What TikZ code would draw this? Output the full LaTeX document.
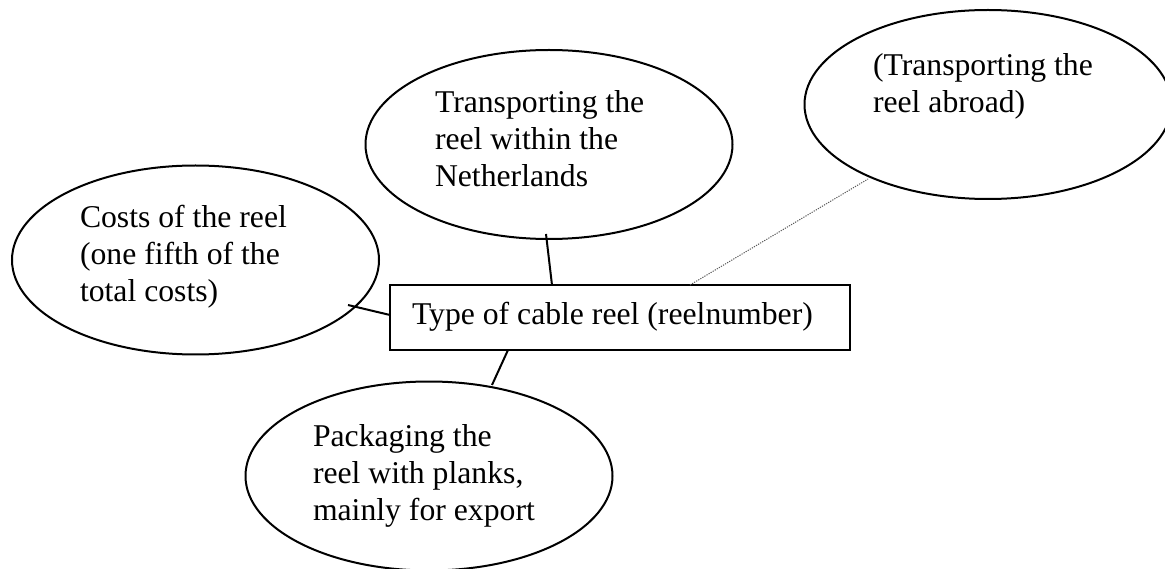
\documentclass[tikz,border=0pt]{standalone}
\usepackage{fontspec}
\setmainfont{Liberation Serif}
\usetikzlibrary{shapes.geometric}

% stacked lines whose reference point is the first baseline
\newcommand\linestack[1]{\vtop{\baselineskip=37pt\lineskiplimit=-100pt\lineskip=0pt #1}}
\newcommand\txtline[1]{\hbox{#1}}

\tikzset{
  bubble/.style={draw, ellipse, line width=2pt, inner sep=0pt, outer sep=0pt,
    minimum width=367pt, minimum height=189pt},
  reelbox/.style={draw, rectangle, line width=2.4pt, inner sep=0pt, outer sep=0pt,
    minimum width=460pt, minimum height=65pt},
  label/.style={anchor=base west, inner sep=0pt, outer sep=0pt,
    font=\fontsize{31.7}{37}\selectfont},
  link/.style={line width=2pt},
  weaklink/.style={line width=1pt, gray!70!black, dash pattern=on 1.2pt off 1.2pt}
}

\begin{document}
\begin{tikzpicture}[x=1pt,y=-1pt]
\useasboundingbox (0,0) rectangle (1165,569);

% the four cost bubbles
\node[bubble] (costs)     at (195.5,260) {};
\node[bubble] (inland)    at (549,144.5) {};
\node[bubble] (abroad)    at (988,104.5) {};
\node[bubble] (packaging) at (429,476)   {};

% central box
\node[reelbox] (reel) at (620,317.5) {};

% texts
\node[label] (costs-t)  at (80,228)  {\linestack{\txtline{Costs of the reel}\txtline{(one fifth of the}\txtline{total costs)}}};
\node[label] (inland-t) at (435,113) {\linestack{\txtline{Transporting the}\txtline{reel within the}\txtline{Netherlands}}};
\node[label] (abroad-t) at (873,76)  {\linestack{\txtline{(Transporting the}\txtline{reel abroad)}}};
\node[label] (pack-t)   at (313,446) {\linestack{\txtline{Packaging the}\txtline{reel with planks,}\txtline{mainly for export}}};
\node[label] (reel-t)   at (412,325) {Type of cable reel (reelnumber)};

% connector ends
\coordinate (costs-end)  at (348,305);
\coordinate (reel-w)     at (390,315);
\coordinate (inland-end) at (546,234);
\coordinate (reel-n)     at (552,285);
\coordinate (abroad-end) at (868,179);
\coordinate (reel-ne)    at (690,285);
\coordinate (pack-end)   at (492,385);
\coordinate (reel-s)     at (508,350);

% connectors
\draw[link] (costs-end) -- (reel-w);
\draw[link] (inland-end) -- (reel-n);
\draw[weaklink] (reel-ne) -- (abroad-end);
\draw[link] (reel-s) -- (pack-end);
\end{tikzpicture}
\end{document}
